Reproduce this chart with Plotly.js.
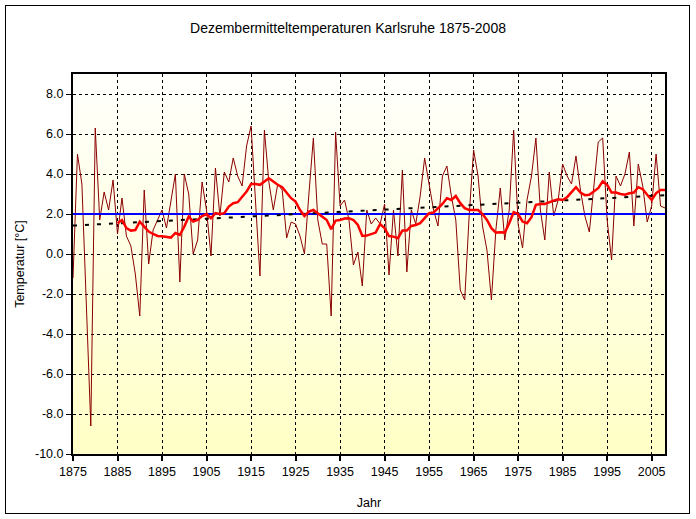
<!DOCTYPE html>
<html>
<head>
<meta charset="utf-8">
<script src="https://cdn.plot.ly/plotly-3.0.1.min.js"></script>
<style>
  html, body { margin: 0; padding: 0; background: #fff; }
  #wrap { position: relative; width: 696px; height: 519px; }
  #chart { width: 696px; height: 519px; }
  #frame { position: absolute; left: 5px; top: 5px; width: 685px; height: 509px;
           box-sizing: border-box; border: 1px solid #000; pointer-events: none; }
</style>
</head>
<body>
<div id="wrap"><div id="chart"></div><div id="frame"></div></div>
<script>
// December mean temperatures, Karlsruhe (°C), 1875-2008
const years = [1875,1876,1877,1878,1879,1880,1881,1882,1883,1884,1885,1886,1887,1888,1889,1890,1891,1892,1893,1894,1895,1896,1897,1898,1899,
1900,1901,1902,1903,1904,1905,1906,1907,1908,1909,1910,1911,1912,1913,1914,1915,1916,1917,1918,1919,1920,1921,1922,1923,1924,1925,1926,1927,1928,1929,
1930,1931,1932,1933,1934,1935,1936,1937,1938,1939,1940,1941,1942,1943,1944,1945,1946,1947,1948,1949,1950,1951,1952,1953,1954,1955,1956,1957,1958,1959,
1960,1961,1962,1963,1964,1965,1966,1967,1968,1969,1970,1971,1972,1973,1974,1975,1976,1977,1978,1979,1980,1981,1982,1983,1984,1985,1986,1987,1988,1989,
1990,1991,1992,1993,1994,1995,1996,1997,1998,1999,2000,2001,2002,2003,2004,2005,2006,2007,2008];

const temps = [-1.2,5.0,3.5,-2.8,-8.6,6.3,1.7,3.1,2.2,3.7,1.0,2.8,0.9,0.4,-1.0,-3.1,3.2,-0.5,1.2,1.7,2.2,1.3,2.7,4.0,-1.4,
4.0,3.0,0.0,0.7,3.6,2.2,-0.1,4.3,1.9,4.1,3.6,4.8,3.9,3.4,5.4,6.4,2.5,-1.1,6.2,3.6,2.2,3.5,3.2,0.8,1.6,1.5,0.9,0.0,3.0,5.8,
1.7,0.5,0.5,-3.1,6.1,2.4,2.7,1.7,-0.55,0.1,-1.6,2.2,1.5,1.8,1.5,2.5,-1.05,2.2,-0.1,4.2,-0.9,2.2,1.5,2.9,4.8,3.5,2.2,1.4,3.9,4.4,
2.9,1.7,-1.8,-2.3,1.9,5.2,3.9,1.4,0.2,-2.3,1.2,3.3,0.7,2.2,6.2,1.5,0.3,2.7,3.9,5.8,2.2,0.7,4.1,1.9,2.7,4.5,3.9,3.5,4.9,3.2,
1.9,1.1,3.4,5.6,5.8,1.7,-0.3,3.9,3.4,4.0,5.1,1.4,4.5,3.4,1.6,2.4,5.0,2.4,2.3];

// smoothed curve (thick red), 1885-2008
const smoothYears = [1885,1886,1887,1888,1889,1890,1891,1892,1893,1894,1895,1896,1897,1898,1899,
1900,1901,1902,1903,1904,1905,1906,1907,1908,1909,1910,1911,1912,1913,1914,1915,1916,1917,1918,1919,1920,1921,1922,1923,1924,1925,1926,1927,1928,1929,
1930,1931,1932,1933,1934,1935,1936,1937,1938,1939,1940,1941,1942,1943,1944,1945,1946,1947,1948,1949,1950,1951,1952,1953,1954,1955,1956,1957,1958,1959,
1960,1961,1962,1963,1964,1965,1966,1967,1968,1969,1970,1971,1972,1973,1974,1975,1976,1977,1978,1979,1980,1981,1982,1983,1984,1985,1986,1987,1988,1989,
1990,1991,1992,1993,1994,1995,1996,1997,1998,1999,2000,2001,2002,2003,2004,2005,2006,2007,2008];
const smoothTemps = [1.54,1.7,1.29,1.17,1.2,1.62,1.37,1.12,1.0,0.9,0.89,0.85,0.82,1.05,0.95,
1.37,1.87,1.62,1.7,1.9,2.0,1.79,2.04,2.0,2.04,2.37,2.54,2.59,2.84,3.12,3.5,3.5,3.46,3.63,3.79,3.63,3.46,3.34,3.07,2.79,2.62,2.2,1.9,2.12,2.2,
2.04,1.9,1.7,1.24,1.67,1.7,1.77,1.79,1.7,1.45,0.9,0.92,1.0,1.07,1.5,1.29,0.9,0.87,0.79,1.17,1.17,1.4,1.45,1.54,1.79,2.04,2.07,2.29,2.5,2.79,
2.7,2.9,2.54,2.29,2.2,2.2,2.2,2.0,1.7,1.29,1.07,1.09,1.07,1.54,2.09,2.0,1.62,1.54,1.84,2.46,2.5,2.5,2.6,2.67,2.74,2.7,2.84,3.1,3.34,3.07,
2.94,2.96,3.12,3.29,3.63,3.46,3.07,3.07,3.0,2.96,3.04,3.07,3.34,3.24,2.96,2.7,3.04,3.2,3.2];

// linear trend (end points) and long-term mean
const trendYears = [1875, 2008];
const trendTemps = [1.42, 2.94];
const meanYears = [1875, 2008];
const meanTemps = [2.0, 2.0];

// tick labels
const yTickVals = [-10,-8,-6,-4,-2,0,2,4,6,8];
const yTickText = ["-10.0","-8.0","-6.0","-4.0","-2.0","0.0","2.0","4.0","6.0","8.0"];
const xTickVals = [1875,1885,1895,1905,1915,1925,1935,1945,1955,1965,1975,1985,1995,2005];

const FONT = '"Liberation Sans", Arial, sans-serif';

// background gradient (white at top to pale yellow at bottom) as horizontal bands
const shapes = [];
const nBands = 38, yLo = -10, yHi = 9;
for (let i = 0; i < nBands; i++) {
  const t = (i + 0.5) / nBands; // 0 bottom -> 1 top
  const b = Math.round(198 + (253 - 198) * t);
  shapes.push({type:'rect', xref:'paper', yref:'y', x0:0, x1:1,
    y0: yLo + (yHi - yLo) * i / nBands, y1: yLo + (yHi - yLo) * (i + 1) / nBands,
    fillcolor: 'rgb(255,255,' + b + ')', line: {width: 0}, layer: 'below'});
}

const traces = [
  {x: years, y: temps, type: 'scatter', mode: 'lines',
   line: {color: '#8B0000', width: 1}, hoverinfo: 'x+y'},
  {x: meanYears, y: meanTemps, type: 'scatter', mode: 'lines',
   line: {color: '#0000FF', width: 2}},
  {x: trendYears, y: trendTemps, type: 'scatter', mode: 'lines',
   line: {color: '#000000', width: 2, dash: '4px,8px'}},
  {x: smoothYears, y: smoothTemps, type: 'scatter', mode: 'lines',
   line: {color: '#FF0000', width: 2.5}}
];

const layout = {
  width: 696, height: 519,
  margin: {l: 73, r: 31, t: 74, b: 65},
  paper_bgcolor: '#FFFFFF', plot_bgcolor: 'rgba(0,0,0,0)',
  showlegend: false,
  font: {family: FONT, size: 12.5, color: '#000'},
  title: {text: 'Dezembermitteltemperaturen Karlsruhe 1875-2008',
          font: {family: FONT, size: 14, color: '#000'},
          x: 0.5, xref: 'container', xanchor: 'center',
          y: 1 - 28/519, yref: 'container', yanchor: 'middle'},
  xaxis: {range: [1875, 2008], tickmode: 'array', tickvals: xTickVals,
          ticks: 'outside', ticklen: 5, tickwidth: 2, tickcolor: '#000',
          showline: true, linewidth: 2, linecolor: '#000', mirror: true,
          showgrid: true, gridcolor: '#000', gridwidth: 1, griddash: '3px,3px',
          zeroline: false, tickfont: {family: FONT, size: 12.5, color: '#000'},
          title: {text: 'Jahr', font: {family: FONT, size: 12.5, color: '#000'}, standoff: 20},
          automargin: false},
  yaxis: {range: [-10, 9], tickmode: 'array', tickvals: yTickVals, ticktext: yTickText,
          ticks: 'outside', ticklen: 5, tickwidth: 1, tickcolor: '#000',
          showline: true, linewidth: 2, linecolor: '#000', mirror: true,
          showgrid: true, gridcolor: '#000', gridwidth: 1, griddash: '3px,3px',
          zeroline: false, tickfont: {family: FONT, size: 12.5, color: '#000'},
          title: {text: 'Temperatur [°C]', font: {family: FONT, size: 12.5, color: '#000'}, standoff: 8},
          automargin: false},
  shapes: shapes
};

Plotly.newPlot('chart', traces, layout, {displayModeBar: false, staticPlot: true});
</script>
</body>
</html>
